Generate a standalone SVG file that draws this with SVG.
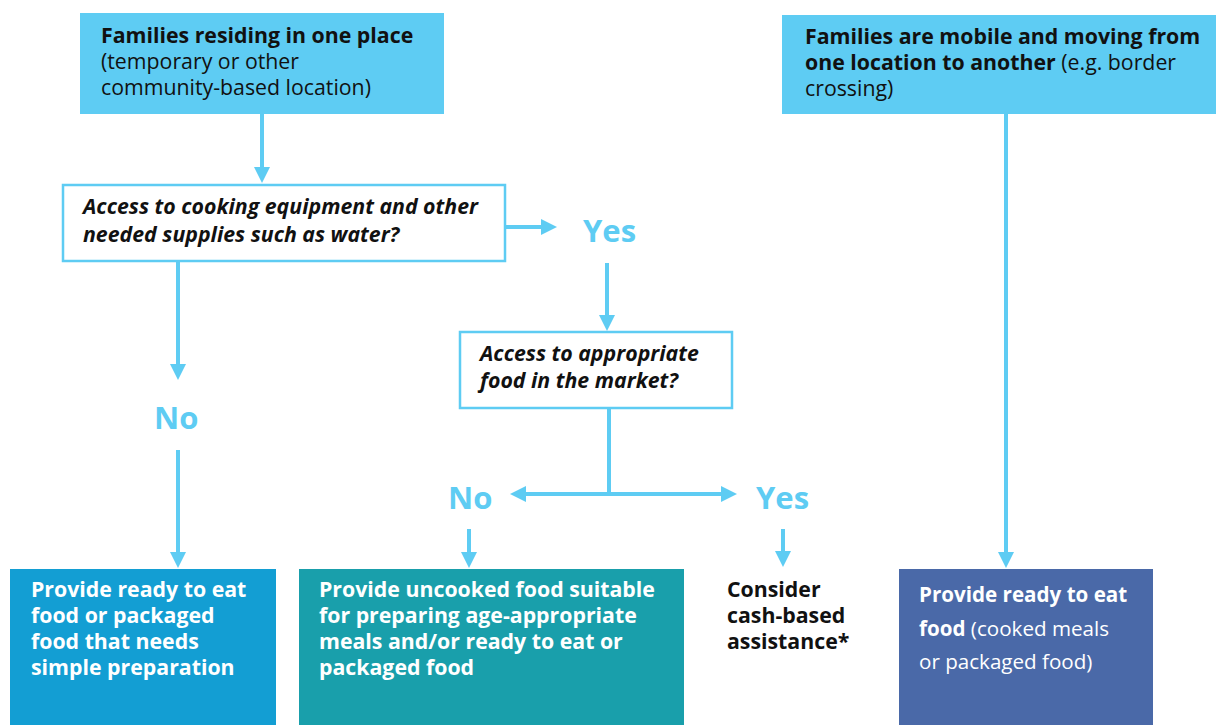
<svg xmlns="http://www.w3.org/2000/svg" width="1216" height="725" viewBox="0 0 1216 725">
  <style>
    text { font-family: "Open Sans", "Noto Sans", "DejaVu Sans", sans-serif; }
    .t21 { font-size: 21.3px; }
    .t20 { font-size: 20.6px; }
    .b { font-weight: 700; }
    .bi { font-weight: 700; font-style: italic; }
    .dark { fill: #111111; }
    .white { fill: #ffffff; }
    .lbl { font-size: 31px; font-weight: 700; fill: #5ECCF3; }
    .start { fill: #5ECCF3; }
    .decision { fill: #ffffff; stroke: #5ECCF3; stroke-width: 2.5; }
    .conn line { stroke: #5ECCF3; stroke-width: 4; fill: none; }
  </style>
  <defs>
    <marker id="arrow" viewBox="0 0 16 16" markerUnits="userSpaceOnUse" markerWidth="16" markerHeight="16" refX="4" refY="8" orient="auto">
      <path d="M0,0 L16,8 L0,16 Z" fill="#5ECCF3"/>
    </marker>
  </defs>

  <rect width="1216" height="725" fill="#ffffff"/>

  <!-- connectors -->
  <g id="connectors" class="conn">
    <line x1="262" y1="114" x2="262" y2="171" marker-end="url(#arrow)"/>
    <line x1="505" y1="227" x2="545" y2="227" marker-end="url(#arrow)"/>
    <line x1="607" y1="263" x2="607" y2="319" marker-end="url(#arrow)"/>
    <line x1="178" y1="261" x2="178" y2="368" marker-end="url(#arrow)"/>
    <line x1="178" y1="450" x2="178" y2="556" marker-end="url(#arrow)"/>
    <line x1="609" y1="408" x2="609" y2="494"/>
    <line x1="609" y1="494" x2="522" y2="494" marker-end="url(#arrow)"/>
    <line x1="609" y1="494" x2="725" y2="494" marker-end="url(#arrow)"/>
    <line x1="469" y1="529" x2="469" y2="556" marker-end="url(#arrow)"/>
    <line x1="783" y1="529" x2="783" y2="555" marker-end="url(#arrow)"/>
    <line x1="1006" y1="114" x2="1006" y2="556" marker-end="url(#arrow)"/>
  </g>

  <!-- top-left start -->
  <g id="residing">
    <rect class="start" x="80" y="13" width="364" height="101"/>
    <text class="t21 dark" x="101" y="43"><tspan class="b">Families residing in one place</tspan></text>
    <text class="t21 dark" x="101" y="69">(temporary or other</text>
    <text class="t21 dark" x="101" y="95">community-based location)</text>
  </g>

  <!-- top-right start -->
  <g id="mobile">
    <rect class="start" x="782" y="15" width="434" height="99"/>
    <text class="t21 dark" x="805" y="44"><tspan class="b">Families are mobile and moving from</tspan></text>
    <text class="t21 dark" x="805" y="70"><tspan class="b">one location to another</tspan> (e.g. border</text>
    <text class="t21 dark" x="805" y="96">crossing)</text>
  </g>

  <!-- decision: cooking equipment -->
  <g id="cooking">
    <rect class="decision" x="63" y="185" width="442" height="76"/>
    <text class="t21 bi dark" x="83" y="214">Access to cooking equipment and other</text>
    <text class="t21 bi dark" x="83" y="242">needed supplies such as water?</text>
  </g>

  <g id="yes-cooking"><text class="lbl" x="583" y="242">Yes</text></g>
  <g id="no-cooking"><text class="lbl" x="154" y="429">No</text></g>

  <!-- decision: market -->
  <g id="market">
    <rect class="decision" x="460" y="332" width="272" height="76"/>
    <text class="t21 bi dark" x="480" y="361">Access to appropriate</text>
    <text class="t21 bi dark" x="480" y="388">food in the market?</text>
  </g>

  <g id="no-market"><text class="lbl" x="448" y="509">No</text></g>
  <g id="yes-market"><text class="lbl" x="756" y="509">Yes</text></g>

  <!-- outcomes -->
  <g id="ready-simple">
    <rect x="10" y="569" width="266" height="156" fill="#139ED3"/>
    <text class="t21 b white" x="31" y="597">Provide ready to eat</text>
    <text class="t21 b white" x="31" y="623">food or packaged</text>
    <text class="t21 b white" x="31" y="649">food that needs</text>
    <text class="t21 b white" x="31" y="675">simple preparation</text>
  </g>

  <g id="uncooked">
    <rect x="299" y="569" width="385" height="156" fill="#199FAB"/>
    <text class="t21 b white" x="319" y="597">Provide uncooked food suitable</text>
    <text class="t21 b white" x="319" y="623">for preparing age-appropriate</text>
    <text class="t21 b white" x="319" y="649">meals and/or ready to eat or</text>
    <text class="t21 b white" x="319" y="675">packaged food</text>
  </g>

  <g id="cash">
    <text class="t21 b dark" x="727" y="597">Consider</text>
    <text class="t21 b dark" x="727" y="623">cash-based</text>
    <text class="t21 b dark" x="727" y="649">assistance*</text>
  </g>

  <g id="ready-mobile">
    <rect x="899" y="569" width="254" height="156" fill="#4A69A8"/>
    <text class="t20 b white" x="919" y="602">Provide ready to eat</text>
    <text class="t20 white" x="919" y="636"><tspan class="b">food</tspan> (cooked meals</text>
    <text class="t20 white" x="919" y="669">or packaged food)</text>
  </g>
</svg>
